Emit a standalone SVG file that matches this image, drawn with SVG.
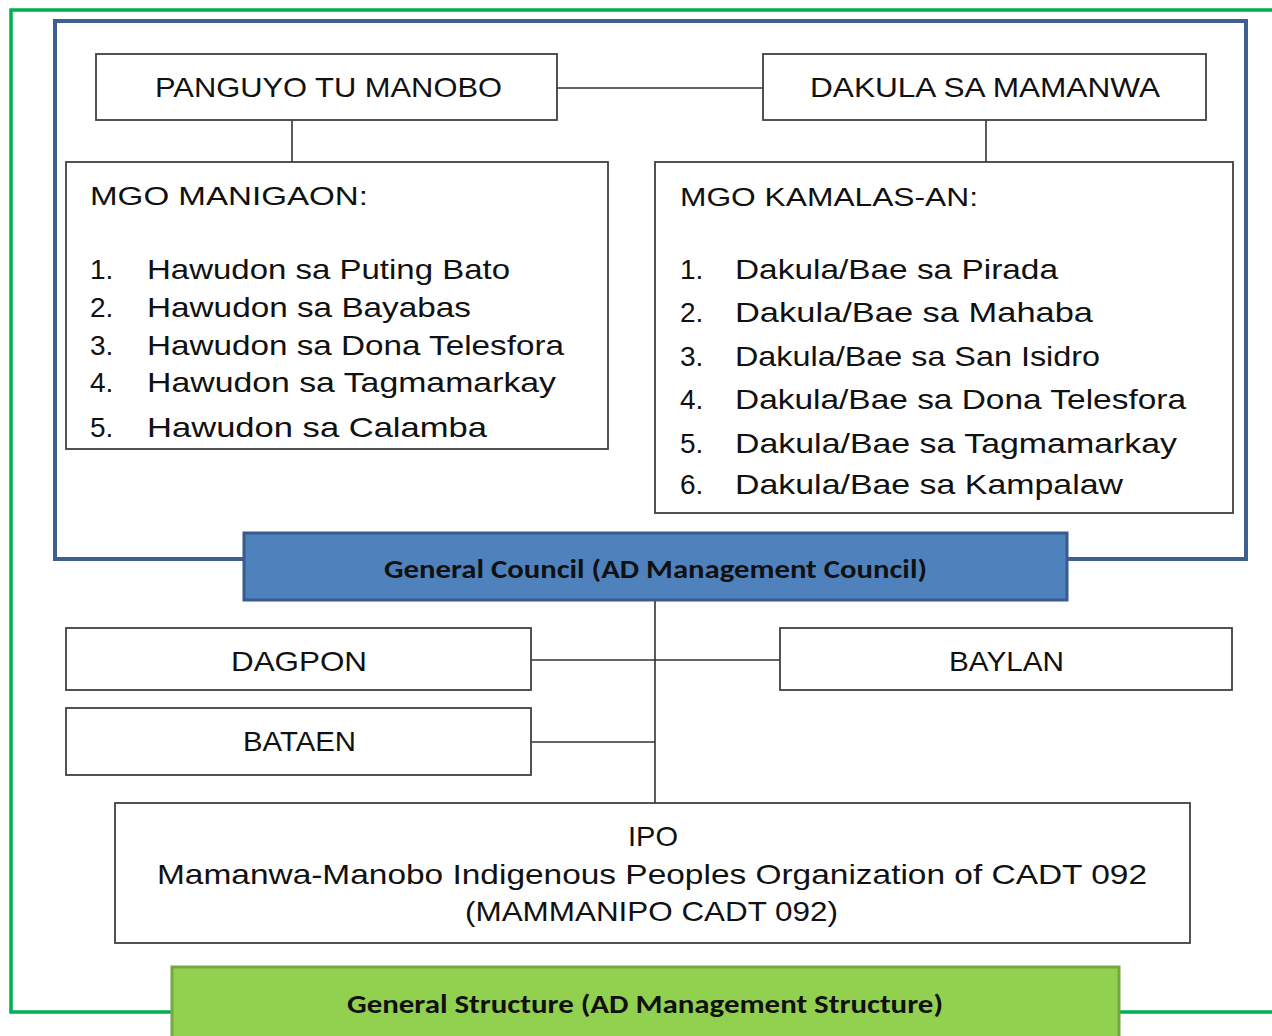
<svg xmlns="http://www.w3.org/2000/svg" width="1272" height="1036" viewBox="0 0 1272 1036">
<style>
.box{fill:#fff;stroke:#404040;stroke-width:1.8}
.t{font-family:"Liberation Sans",Arial,sans-serif;fill:#111;font-size:28px}
.s{font-size:26px}
.b{font-family:Carlito,"Liberation Sans",Arial,sans-serif;font-weight:bold;fill:#111;font-size:26px}
.ln{stroke:#333;stroke-width:1.6;fill:none}
</style>
<rect width="1272" height="1036" fill="#fff"/>
<g id="frame-green">
<path d="M1280 10 H11 V1012 H1280" fill="none" stroke="#00b050" stroke-width="3.5"/>
</g>
<g id="frame-blue">
<rect x="55" y="21" width="1191" height="538" fill="none" stroke="#3d5f92" stroke-width="4"/>
</g>
<g id="connectors">
<line class="ln" x1="557" y1="88" x2="763" y2="88" stroke="#888"/>
<line class="ln" x1="292" y1="120" x2="292" y2="162"/>
<line class="ln" x1="986" y1="120" x2="986" y2="162"/>
<line class="ln" x1="655" y1="600" x2="655" y2="803"/>
<line class="ln" x1="531" y1="660" x2="780" y2="660" stroke="#555"/>
<line class="ln" x1="531" y1="742" x2="655" y2="742" stroke="#555"/>
</g>
<g id="panguyo">
<rect class="box" x="96" y="54" width="461" height="66"/>
<text class="t" x="155" y="97" textLength="347" lengthAdjust="spacingAndGlyphs">PANGUYO TU MANOBO</text>
</g>
<g id="dakula">
<rect class="box" x="763" y="54" width="443" height="66"/>
<text class="t" x="810" y="97" textLength="350" lengthAdjust="spacingAndGlyphs">DAKULA SA MAMANWA</text>
</g>
<g id="manigaon">
<rect class="box" x="66" y="162" width="542" height="287"/>
<text class="t s" x="90" y="205" textLength="278" lengthAdjust="spacingAndGlyphs">MGO MANIGAON:</text>
<g class="t">
<text x="90" y="279">1.</text><text x="147" y="279" textLength="363" lengthAdjust="spacingAndGlyphs">Hawudon sa Puting Bato</text>
<text x="90" y="317">2.</text><text x="147" y="317" textLength="324" lengthAdjust="spacingAndGlyphs">Hawudon sa Bayabas</text>
<text x="90" y="355">3.</text><text x="147" y="355" textLength="417" lengthAdjust="spacingAndGlyphs">Hawudon sa Dona Telesfora</text>
<text x="90" y="392">4.</text><text x="147" y="392" textLength="409" lengthAdjust="spacingAndGlyphs">Hawudon sa Tagmamarkay</text>
<text x="90" y="437">5.</text><text x="147" y="437" textLength="340" lengthAdjust="spacingAndGlyphs">Hawudon sa Calamba</text>
</g>
</g>
<g id="kamalas">
<rect class="box" x="655" y="162" width="578" height="351"/>
<text class="t s" x="680" y="206" textLength="298" lengthAdjust="spacingAndGlyphs">MGO KAMALAS-AN:</text>
<g class="t">
<text x="680" y="279">1.</text><text x="735" y="279" textLength="323" lengthAdjust="spacingAndGlyphs">Dakula/Bae sa Pirada</text>
<text x="680" y="322">2.</text><text x="735" y="322" textLength="358" lengthAdjust="spacingAndGlyphs">Dakula/Bae sa Mahaba</text>
<text x="680" y="366">3.</text><text x="735" y="366" textLength="365" lengthAdjust="spacingAndGlyphs">Dakula/Bae sa San Isidro</text>
<text x="680" y="409">4.</text><text x="735" y="409" textLength="451" lengthAdjust="spacingAndGlyphs">Dakula/Bae sa Dona Telesfora</text>
<text x="680" y="453">5.</text><text x="735" y="453" textLength="442" lengthAdjust="spacingAndGlyphs">Dakula/Bae sa Tagmamarkay</text>
<text x="680" y="494">6.</text><text x="735" y="494" textLength="388" lengthAdjust="spacingAndGlyphs">Dakula/Bae sa Kampalaw</text>
</g>
</g>
<g id="general-council">
<rect x="244" y="533" width="823" height="67" fill="#4f81bd" stroke="#385d8a" stroke-width="3"/>
<text class="b" x="384" y="578" textLength="543" lengthAdjust="spacingAndGlyphs">General Council (AD Management Council)</text>
</g>
<g id="dagpon">
<rect class="box" x="66" y="628" width="465" height="62"/>
<text class="t" x="231" y="671" textLength="136" lengthAdjust="spacingAndGlyphs">DAGPON</text>
</g>
<g id="baylan">
<rect class="box" x="780" y="628" width="452" height="62"/>
<text class="t" x="949" y="671" textLength="115" lengthAdjust="spacingAndGlyphs">BAYLAN</text>
</g>
<g id="bataen">
<rect class="box" x="66" y="708" width="465" height="67"/>
<text class="t" x="243" y="751" textLength="113" lengthAdjust="spacingAndGlyphs">BATAEN</text>
</g>
<g id="ipo">
<rect class="box" x="115" y="803" width="1075" height="140"/>
<text class="t" x="628" y="846" textLength="50" lengthAdjust="spacingAndGlyphs">IPO</text>
<text class="t" x="157" y="884" textLength="990" lengthAdjust="spacingAndGlyphs">Mamanwa-Manobo Indigenous Peoples Organization of CADT 092</text>
<text class="t" x="465" y="921" textLength="373" lengthAdjust="spacingAndGlyphs">(MAMMANIPO CADT 092)</text>
</g>
<g id="general-structure">
<rect x="172" y="967" width="947" height="75" fill="#92d050" stroke="#76a83e" stroke-width="3"/>
<text class="b" x="347" y="1013" textLength="596" lengthAdjust="spacingAndGlyphs">General Structure (AD Management Structure)</text>
</g>
</svg>
